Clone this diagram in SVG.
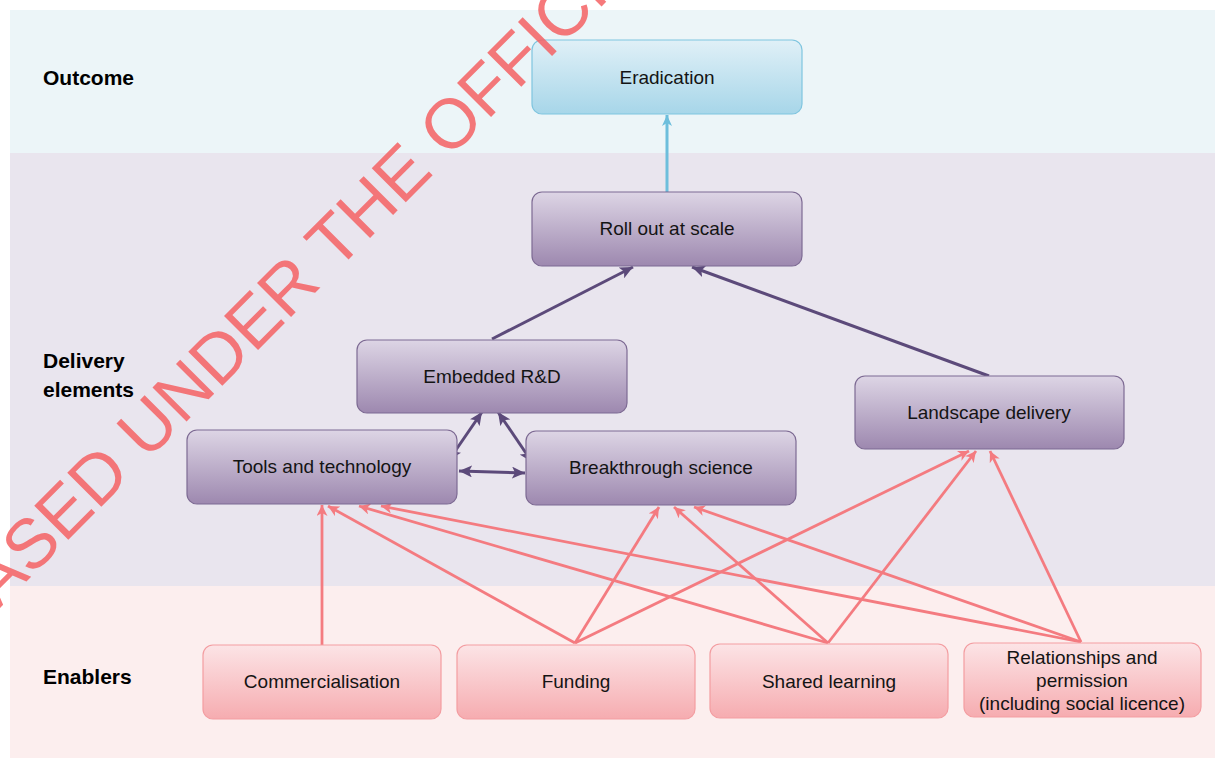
<svg xmlns="http://www.w3.org/2000/svg" width="1215" height="758" viewBox="0 0 1215 758">
  <defs>
    <linearGradient id="gBlue" x1="0" y1="0" x2="0" y2="1">
      <stop offset="0" stop-color="#E0F0F7"/>
      <stop offset="1" stop-color="#A7D6E9"/>
    </linearGradient>
    <linearGradient id="gPurple" x1="0" y1="0" x2="0" y2="1">
      <stop offset="0" stop-color="#DDD5E5"/>
      <stop offset="1" stop-color="#9D88AF"/>
    </linearGradient>
    <linearGradient id="gPink" x1="0" y1="0" x2="0" y2="1">
      <stop offset="0" stop-color="#FCE4E6"/>
      <stop offset="1" stop-color="#F6ACB0"/>
    </linearGradient>
    <marker id="aBlue" markerUnits="userSpaceOnUse" markerWidth="12" markerHeight="10" refX="11" refY="5" orient="auto">
      <path d="M0,0 L11,5 L0,10 L3,5 z" fill="#6DBEDC"/>
    </marker>
    <marker id="aDark" markerUnits="userSpaceOnUse" markerWidth="14" markerHeight="12" refX="13" refY="6" orient="auto-start-reverse">
      <path d="M0,0 L13,6 L0,12 L3,6 z" fill="#5C4A7A"/>
    </marker>
    <marker id="aPink" markerUnits="userSpaceOnUse" markerWidth="12" markerHeight="11" refX="11" refY="5.5" orient="auto">
      <path d="M0,0 L11,5.5 L0,11 L3,5.5 z" fill="#F47B80"/>
    </marker>
  </defs>
  <style>
    .lbl { font-family: "Liberation Sans", Arial, sans-serif; font-weight: bold; font-size: 21px; fill: #000; }
    .nt { font-family: "Liberation Sans", Arial, sans-serif; font-size: 19px; fill: #141414; text-anchor: middle; }
    .blue rect { fill: url(#gBlue); stroke: #7FC5DF; stroke-width: 1.2; }
    .purple rect { fill: url(#gPurple); stroke: #7D6A93; stroke-width: 1.2; }
    .pink rect { fill: url(#gPink); stroke: #F39DA1; stroke-width: 1.2; }
    .cb { stroke: #6DBEDC; stroke-width: 3; fill: none; marker-end: url(#aBlue); }
    .cd { stroke: #5C4A7A; stroke-width: 3; fill: none; marker-end: url(#aDark); }
    .cd2 { stroke: #5C4A7A; stroke-width: 3; fill: none; marker-start: url(#aDark); marker-end: url(#aDark); }
    .cp { stroke: #F47B80; stroke-width: 2.8; fill: none; marker-end: url(#aPink); }
  </style>

  <!-- page and swim-lane bands -->
  <rect x="0" y="0" width="1215" height="758" fill="#FFFFFF"/>
  <g id="bands">
    <rect x="10" y="10" width="1205" height="143" fill="#ECF5F8"/>
    <rect x="10" y="153" width="1205" height="433" fill="#E9E5EE"/>
    <rect x="10" y="586" width="1205" height="172" fill="#FCEEEE"/>
  </g>

  <!-- lane titles -->
  <g id="lane-labels">
    <text class="lbl" x="43" y="85">Outcome</text>
    <text class="lbl" x="43" y="368">Delivery</text>
    <text class="lbl" x="43" y="397">elements</text>
    <text class="lbl" x="43" y="684">Enablers</text>
  </g>

  <!-- connectors -->
  <g id="connectors">
    <line class="cb" x1="667" y1="192" x2="667" y2="115"/>
    <line class="cd" x1="492" y1="339" x2="633" y2="267"/>
    <line class="cd" x1="989" y1="376" x2="692" y2="267"/>
    <line class="cd2" x1="482" y1="412" x2="449" y2="460"/>
    <line class="cd2" x1="498" y1="412" x2="532" y2="462"/>
    <line class="cd2" x1="459" y1="471" x2="525" y2="473"/>

    <line class="cp" x1="322" y1="645" x2="322" y2="505"/>
    <line class="cp" x1="575" y1="643" x2="328" y2="506"/>
    <line class="cp" x1="575" y1="643" x2="659" y2="507"/>
    <line class="cp" x1="575" y1="643" x2="969" y2="451"/>
    <line class="cp" x1="828" y1="643" x2="359" y2="506"/>
    <line class="cp" x1="828" y1="643" x2="674" y2="507"/>
    <line class="cp" x1="828" y1="643" x2="976" y2="451"/>
    <line class="cp" x1="1081" y1="642" x2="381" y2="506"/>
    <line class="cp" x1="1081" y1="642" x2="694" y2="507"/>
    <line class="cp" x1="1081" y1="642" x2="990" y2="451"/>
  </g>

  <!-- nodes -->
  <g id="eradication" class="blue">
    <rect x="532" y="40" width="270" height="74" rx="10"/>
    <text class="nt" x="667" y="84">Eradication</text>
  </g>
  <g id="roll-out" class="purple">
    <rect x="532" y="192" width="270" height="74" rx="10"/>
    <text class="nt" x="667" y="235">Roll out at scale</text>
  </g>
  <g id="embedded-rd" class="purple">
    <rect x="357" y="340" width="270" height="73" rx="10"/>
    <text class="nt" x="492" y="383">Embedded R&amp;D</text>
  </g>
  <g id="tools" class="purple">
    <rect x="187" y="430" width="270" height="74" rx="10"/>
    <text class="nt" x="322" y="473">Tools and technology</text>
  </g>
  <g id="breakthrough" class="purple">
    <rect x="526" y="431" width="270" height="74" rx="10"/>
    <text class="nt" x="661" y="474">Breakthrough science</text>
  </g>
  <g id="landscape" class="purple">
    <rect x="855" y="376" width="269" height="73" rx="10"/>
    <text class="nt" x="989" y="419">Landscape delivery</text>
  </g>
  <g id="commercialisation" class="pink">
    <rect x="203" y="645" width="238" height="74" rx="10"/>
    <text class="nt" x="322" y="688">Commercialisation</text>
  </g>
  <g id="funding" class="pink">
    <rect x="457" y="645" width="238" height="74" rx="10"/>
    <text class="nt" x="576" y="688">Funding</text>
  </g>
  <g id="shared-learning" class="pink">
    <rect x="710" y="644" width="238" height="74" rx="10"/>
    <text class="nt" x="829" y="688">Shared learning</text>
  </g>
  <g id="relationships" class="pink">
    <rect x="964" y="643" width="237" height="74" rx="10"/>
    <text class="nt" x="1082" y="664">Relationships and</text>
    <text class="nt" x="1082" y="687">permission</text>
    <text class="nt" x="1082" y="710">(including social licence)</text>
  </g>

  <!-- diagonal stamp across the sheet -->
  <g id="stamp" opacity="0.85">
    <text transform="translate(-131,739) rotate(-45)" font-family="Liberation Sans, Arial, sans-serif" font-size="70" fill="#F56264">RELEASED UNDER THE OFFICIAL INFORMATION ACT</text>
  </g>
</svg>
